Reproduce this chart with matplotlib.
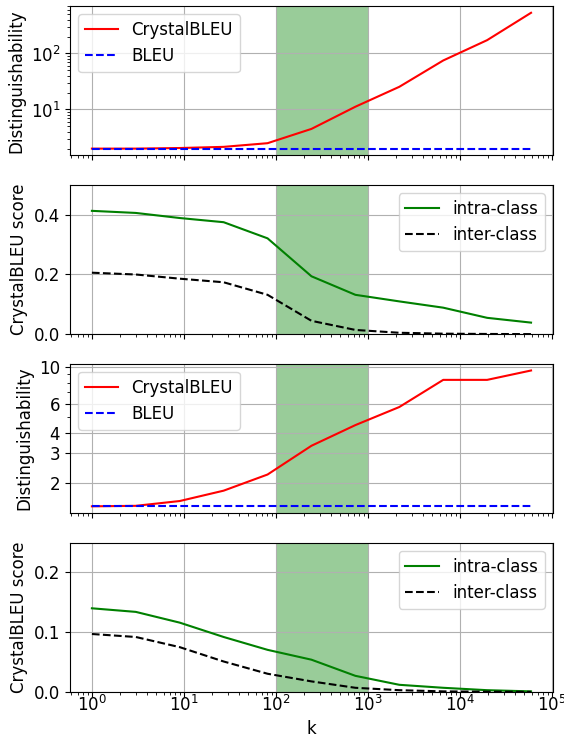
import matplotlib
matplotlib.use("Agg")
import matplotlib.pyplot as plt
from matplotlib.ticker import ScalarFormatter, NullFormatter

# k values (powers of 3)
k = [1, 3, 9, 27, 81, 243, 729, 2187, 6561, 19683, 59049]

# panel 1: distinguishability (dataset A)
dist_crystal_a = [2.0, 2.0, 2.05, 2.15, 2.5, 4.5, 11.2, 25.4, 75, 173, 533]
dist_bleu_a = [2.0] * len(k)

# panel 2: scores (dataset A)
intra_a = [0.413, 0.406, 0.389, 0.375, 0.321, 0.194, 0.132, 0.110, 0.089, 0.055, 0.039]
inter_a = [0.206, 0.200, 0.186, 0.174, 0.132, 0.045, 0.0145, 0.005, 0.002, 0.001, 0.0005]

# panel 3: distinguishability (dataset B)
dist_crystal_b = [1.44, 1.45, 1.55, 1.79, 2.24, 3.34, 4.45, 5.72, 8.34, 8.34, 9.5]
dist_bleu_b = [1.44] * len(k)

# panel 4: scores (dataset B)
intra_b = [0.140, 0.134, 0.116, 0.092, 0.0705, 0.054, 0.027, 0.012, 0.007, 0.003, 0.001]
inter_b = [0.097, 0.092, 0.075, 0.051, 0.0305, 0.0177, 0.007, 0.003, 0.001, 0.0005, 0.0002]

plt.rcParams["font.size"] = 12

fig, axes = plt.subplots(4, 1, sharex=True, figsize=(5.64, 7.4), dpi=100)
fig.subplots_adjust(left=0.124, right=0.9805, top=0.9919, bottom=0.0649, hspace=0.197)

ax1, ax2, ax3, ax4 = axes

# distinguishability panels
for ax, crystal, bleu in [(ax1, dist_crystal_a, dist_bleu_a), (ax3, dist_crystal_b, dist_bleu_b)]:
    ax.plot(k, crystal, color="red", label="CrystalBLEU")
    ax.plot(k, bleu, color="blue", linestyle="--", label="BLEU")
    ax.set_yscale("log")
    ax.set_ylabel("Distinguishability")
    ax.legend(loc="upper left")

# score panels
for ax, intra, inter, top in [(ax2, intra_a, inter_a, 0.5), (ax4, intra_b, inter_b, 0.25)]:
    ax.plot(k, intra, color="green", label="intra-class")
    ax.plot(k, inter, color="black", linestyle="--", label="inter-class")
    ax.set_ylim(0, top)
    ax.set_ylabel("CrystalBLEU score")
    ax.legend(loc="upper right")

ax3.set_yticks([2, 3, 4, 6, 10])
ax3.yaxis.set_major_formatter(ScalarFormatter())
ax3.yaxis.set_minor_formatter(NullFormatter())

for ax in axes:
    ax.set_xscale("log")
    ax.axvspan(100, 1000, color="green", alpha=0.4, linewidth=0)
    ax.grid(True)

ax2.set_yticks([0.0, 0.2, 0.4])
ax4.set_yticks([0.0, 0.1, 0.2])
ax4.tick_params(axis="x", which="major", pad=-1.5)
ax4.set_xlabel("k")

fig.savefig("out.png")
